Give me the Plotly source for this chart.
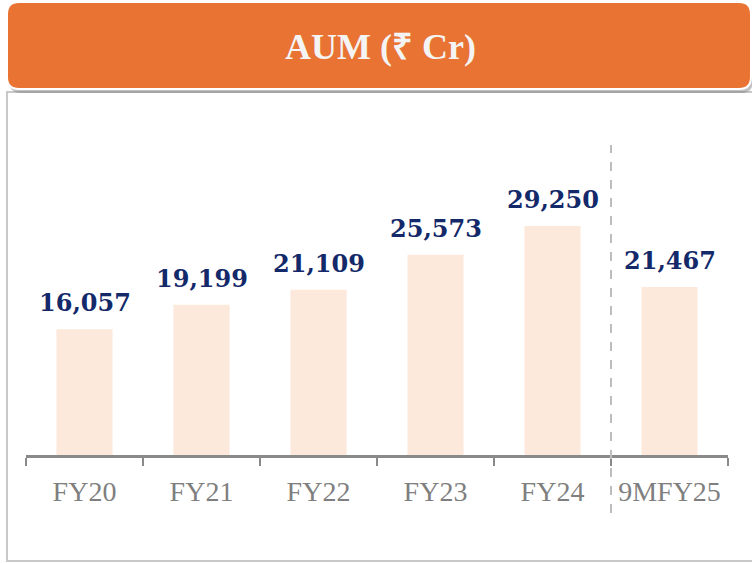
import plotly.graph_objects as go

categories = ["FY20", "FY21", "FY22", "FY23", "FY24", "9MFY25"]
aum_values = [16057, 19199, 21109, 25573, 29250, 21467]
value_labels = ["16,057", "19,199", "21,109", "25,573", "29,250", "21,467"]
title_text = "AUM (₹ Cr)"

W, H = 752, 563


def PX(x):
    return x / W


def PY(y):
    return 1 - y / H


def rounded_path(x0, y0, x1, y1, r):
    pts = []
    pts.append(f"M {PX(x0 + r)},{PY(y0)}")
    pts.append(f"L {PX(x1 - r)},{PY(y0)}")
    pts.append(f"Q {PX(x1)},{PY(y0)} {PX(x1)},{PY(y0 + r)}")
    pts.append(f"L {PX(x1)},{PY(y1 - r)}")
    pts.append(f"Q {PX(x1)},{PY(y1)} {PX(x1 - r)},{PY(y1)}")
    pts.append(f"L {PX(x0 + r)},{PY(y1)}")
    pts.append(f"Q {PX(x0)},{PY(y1)} {PX(x0)},{PY(y1 - r)}")
    pts.append(f"L {PX(x0)},{PY(y0 + r)}")
    pts.append(f"Q {PX(x0)},{PY(y0)} {PX(x0 + r)},{PY(y0)}")
    pts.append("Z")
    return " ".join(pts)


fig = go.Figure()
fig.add_trace(go.Bar(
    x=categories,
    y=aum_values,
    marker=dict(color="#FDE9DB", line=dict(width=0)),
    width=0.48,
    hoverinfo="skip",
))

for c, v, t in zip(categories, aum_values, value_labels):
    fig.add_annotation(
        x=c, y=v, text=f"<b>{t}</b>", showarrow=False,
        yanchor="bottom", yshift=10,
        font=dict(family="DejaVu Serif", size=24, color="#13296A"),
    )

baseline_px = 455
top_px = 100
px_per_unit = (455 - 226) / 29250
ymax = (baseline_px - top_px) / px_per_unit

shapes = []
shapes.append(dict(type="rect", xref="paper", yref="paper",
                   x0=PX(7), x1=PX(800), y0=PY(561), y1=PY(92),
                   line=dict(color="#C9C9C9", width=2), fillcolor="rgba(0,0,0,0)", layer="below"))
shapes.append(dict(type="path", xref="paper", yref="paper",
                   path=rounded_path(9, 6, 753, 93, 12),
                   fillcolor="rgba(120,120,120,0.45)", line=dict(width=0)))
shapes.append(dict(type="path", xref="paper", yref="paper",
                   path=rounded_path(7, 2, 751, 89, 12),
                   fillcolor="#E87333", line=dict(color="#FFFFFF", width=2)))
shapes.append(dict(type="line", xref="x", yref="paper",
                   x0=4.5, x1=4.5, y0=PY(513), y1=PY(145),
                   line=dict(color="#BDBDBD", width=2, dash="dash")))

fig.add_annotation(
    x=PX(380), y=PY(47), xref="paper", yref="paper", showarrow=False,
    text=f"<b>{title_text}</b>", xanchor="center", yanchor="middle",
    font=dict(family="Liberation Serif", size=36, color="#F4F4F4"),
)

fig.update_layout(
    width=W, height=H, autosize=False,
    margin=dict(l=0, r=0, t=0, b=0),
    paper_bgcolor="white", plot_bgcolor="white",
    showlegend=False,
    hovermode=False,
    shapes=shapes,
    xaxis=dict(
        domain=[PX(26), PX(728)],
        range=[-0.5, 5.5],
        showline=True, linecolor="#8A8A8A", linewidth=2.5,
        ticks="outside", tickson="boundaries", ticklen=8, tickwidth=2, tickcolor="#8A8A8A",
        showgrid=False, zeroline=False,
        tickfont=dict(family="Liberation Serif", size=28, color="#7F7F7F"),
        ticklabelstandoff=10,
        fixedrange=True,
    ),
    yaxis=dict(
        domain=[PY(baseline_px), PY(top_px)],
        range=[0, ymax],
        visible=False, showgrid=False, zeroline=False,
        fixedrange=True,
    ),
)

fig.write_html(
    "out.html",
    config={"displayModeBar": False, "staticPlot": True},
    post_script="document.body.style.margin='0';document.body.style.overflow='hidden';",
)
